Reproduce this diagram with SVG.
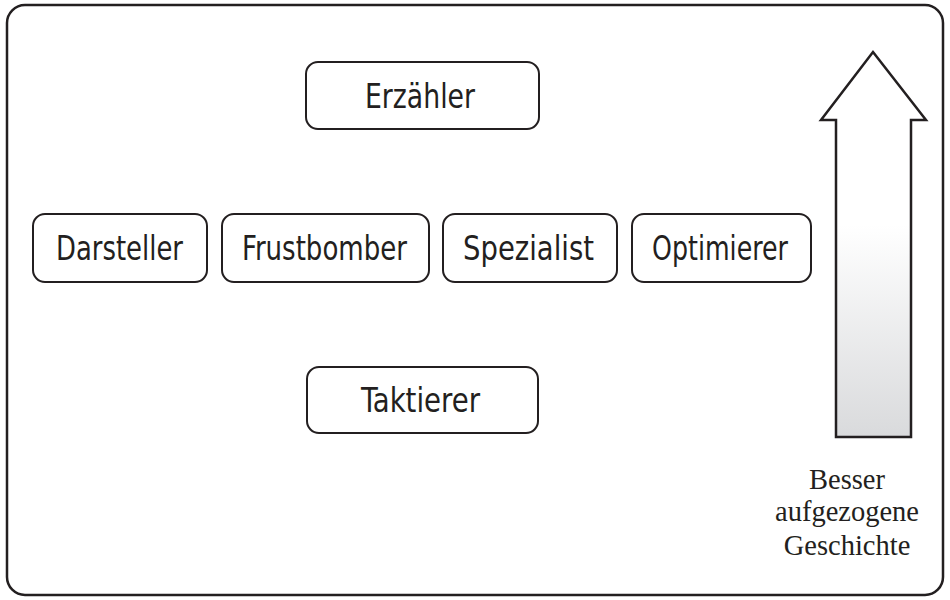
<svg xmlns="http://www.w3.org/2000/svg" width="950" height="600" viewBox="0 0 950 600">
<style>
.frame{fill:#fff;stroke:#231f20;stroke-width:2.5}
.box{fill:#fff;stroke:#231f20;stroke-width:2}
.lbl{font-family:"DejaVu Sans Condensed","DejaVu Sans",sans-serif;font-stretch:condensed;font-size:34px;fill:#231f20}
.cap{font-family:"Liberation Serif",serif;font-size:28.5px;fill:#231f20;text-anchor:middle}
</style>
<defs>
<linearGradient id="g" x1="0" y1="0" x2="0" y2="1">
<stop offset="0" stop-color="#ffffff"/>
<stop offset="0.45" stop-color="#ffffff"/>
<stop offset="1" stop-color="#d9dadc"/>
</linearGradient>
</defs>
<rect class="frame" x="7" y="5" width="936" height="590" rx="18"/>
<g id="erzaehler"><rect class="box" x="306" y="62" width="233" height="67" rx="12"/><text class="lbl" x="365" y="108" textLength="110" lengthAdjust="spacingAndGlyphs">Erzähler</text></g>
<g id="darsteller"><rect class="box" x="33" y="214" width="174" height="68" rx="12"/><text class="lbl" x="56" y="260" textLength="127" lengthAdjust="spacingAndGlyphs">Darsteller</text></g>
<g id="frustbomber"><rect class="box" x="222" y="214" width="207" height="68" rx="12"/><text class="lbl" x="242" y="260" textLength="165" lengthAdjust="spacingAndGlyphs">Frustbomber</text></g>
<g id="spezialist"><rect class="box" x="443" y="214" width="174" height="68" rx="12"/><text class="lbl" x="463" y="260" textLength="131" lengthAdjust="spacingAndGlyphs">Spezialist</text></g>
<g id="optimierer"><rect class="box" x="632" y="214" width="179" height="68" rx="12"/><text class="lbl" x="652" y="260" textLength="136" lengthAdjust="spacingAndGlyphs">Optimierer</text></g>
<g id="taktierer"><rect class="box" x="307" y="367" width="231" height="66" rx="12"/><text class="lbl" x="361" y="412" textLength="119" lengthAdjust="spacingAndGlyphs">Taktierer</text></g>
<g id="connectors">
<path d="M873,52 L926,120 L911,120 L911,437 L836,437 L836,120 L821,120 Z" fill="url(#g)" stroke="#231f20" stroke-width="2.5" stroke-linejoin="miter"/>
</g>
<g id="caption">
<text class="cap" x="847" y="489">Besser</text>
<text class="cap" x="847" y="521">aufgezogene</text>
<text class="cap" x="847" y="555">Geschichte</text>
</g>
</svg>
